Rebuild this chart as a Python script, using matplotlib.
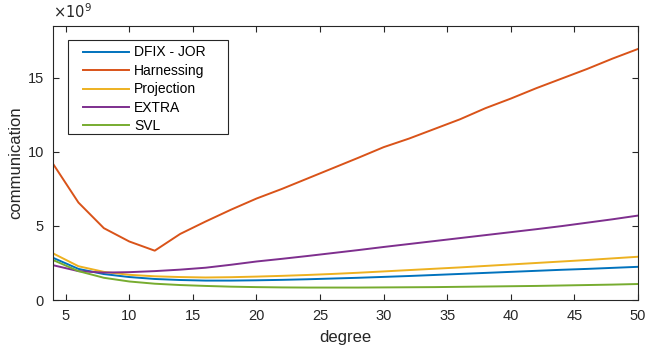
import matplotlib
matplotlib.use("Agg")
import matplotlib.pyplot as plt
from matplotlib.patches import Rectangle
import numpy as np

plt.rcParams['font.family'] = ['Liberation Sans', 'DejaVu Sans']

degree = [4, 6, 8, 10, 12, 14, 16, 18, 20, 22, 24, 26, 28, 30, 32, 34, 36, 38, 40, 42, 44, 46, 48, 50]
dfix_jor = [2.85, 2.10, 1.75, 1.55, 1.42, 1.35, 1.31, 1.31, 1.33, 1.36, 1.40, 1.45, 1.50, 1.56, 1.62, 1.69, 1.76, 1.83, 1.90, 1.97, 2.04, 2.10, 2.17, 2.24]
harnessing = [9.2, 6.58, 4.85, 3.95, 3.33, 4.46, 5.30, 6.10, 6.85, 7.50, 8.20, 8.90, 9.60, 10.32, 10.90, 11.55, 12.20, 12.95, 13.60, 14.30, 14.95, 15.60, 16.30, 16.95]
projection = [3.15, 2.28, 1.90, 1.70, 1.60, 1.55, 1.52, 1.54, 1.58, 1.63, 1.69, 1.76, 1.84, 1.93, 2.02, 2.11, 2.20, 2.30, 2.40, 2.50, 2.60, 2.70, 2.81, 2.92]
extra = [2.35, 1.95, 1.85, 1.88, 1.95, 2.05, 2.18, 2.38, 2.60, 2.78, 2.97, 3.17, 3.37, 3.58, 3.78, 3.98, 4.18, 4.38, 4.58, 4.78, 4.99, 5.22, 5.45, 5.70]
svl = [2.70, 1.95, 1.50, 1.25, 1.10, 1.01, 0.95, 0.90, 0.87, 0.85, 0.84, 0.84, 0.84, 0.85, 0.86, 0.87, 0.89, 0.91, 0.93, 0.95, 0.98, 1.01, 1.04, 1.08]

series = [
    ("DFIX - JOR", dfix_jor, "#0072BD"),
    ("Harnessing", harnessing, "#D95319"),
    ("Projection", projection, "#EDB120"),
    ("EXTRA", extra, "#7E2F8E"),
    ("SVL", svl, "#77AC30"),
]

W, H = 649, 355
fig = plt.figure(figsize=(W / 100, H / 100), dpi=100)
ax = fig.add_axes([53 / W, (H - 300) / H, (638 - 53) / W, (300 - 26) / H])

for name, vals, col in series:
    ax.plot(degree, vals, color=col, lw=1.4, label=name)

ax.set_xlim(4, 50)
ax.set_ylim(0, 18.5)
ax.set_xticks(np.arange(5, 51, 5))
ax.set_yticks([0, 5, 10, 15])
ax.tick_params(direction='in', top=True, right=True, length=4, width=0.8,
               labelsize=10.5, colors='#262626', pad=6.5)
for s in ax.spines.values():
    s.set_color('#262626')
    s.set_linewidth(0.8)

ax.set_xlabel('degree', fontsize=12, color='#262626')
ax.set_ylabel('communication', fontsize=12, color='#262626')
ax.yaxis.set_label_coords((23 - 53) / 585, 0.5)
ax.xaxis.set_label_coords(0.5, (300 - 330) / 274)
ax.text(0.0, 1.02, r'$\times 10^{9}$', transform=ax.transAxes, fontsize=10.5,
        color='#262626', ha='left', va='bottom')

# legend box
box = Rectangle((68 / W, (H - 134) / H), 160 / W, 94 / H, transform=fig.transFigure,
                facecolor='white', edgecolor='#262626', lw=0.8, zorder=4)
ax.add_patch(box)
leg = ax.legend(loc='upper left', bbox_to_anchor=(83 / W, 1 - 45.5 / H),
                bbox_transform=fig.transFigure, fontsize=10, frameon=False,
                handlelength=3.3, borderpad=0, labelspacing=0.32,
                handletextpad=0.36, borderaxespad=0)
leg.set_zorder(5)

fig.savefig('out.png', dpi=100)
